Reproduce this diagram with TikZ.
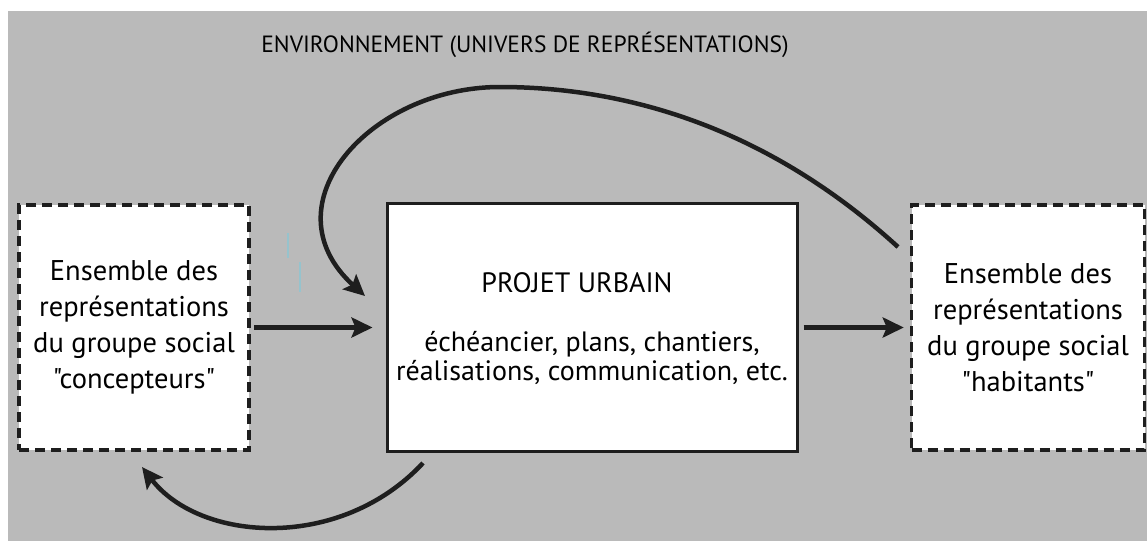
\documentclass[tikz,border=0pt]{standalone}
\usepackage{fontspec}
\setmainfont{PT Sans}[Ligatures=TeXOff]
\usetikzlibrary{arrows.meta,calc}
\definecolor{bggray}{RGB}{186,186,186}
\definecolor{ink}{RGB}{30,30,30}
\definecolor{artifact}{RGB}{150,195,205}
\begin{document}
\begin{tikzpicture}[x=1pt,y=-1pt,
  dashbox/.style={draw=ink, fill=white, line width=3.5pt, dash pattern=on 10pt off 6pt,
    align=center, inner sep=0pt, font=\fontsize{28.5}{36}\selectfont},
  solidbox/.style={draw=ink, fill=white, line width=3pt, inner sep=0pt},
  midtext/.style={align=center, inner sep=0pt, font=\fontsize{28}{29.5}\selectfont},
  arr/.style={draw=ink, line width=4.5pt, -{Stealth[length=21pt,width=20pt,inset=4pt]}}]
\useasboundingbox (0,0) rectangle (1147,541);
\fill[bggray] (8,11) rectangle (1147,541);
% stray light-blue marks
\draw[artifact, line width=2.5pt] (288,233) -- (288,258);
\draw[artifact, line width=2.5pt] (300,262) -- (300,292);
% title
\node[font=\fontsize{23.5}{28}\selectfont, inner sep=0pt] (title) at (525,45) {ENVIRONNEMENT (UNIVERS DE REPRÉSENTATIONS)};
% boxes
\node[dashbox, minimum width=230pt, minimum height=245pt] (left) at (134,327.5)
  {Ensemble des\\représentations\\du groupe social\\"concepteurs"};
\node[solidbox, minimum width=410pt, minimum height=248pt] (mid) at (592,327.5) {};
\node[midtext] (pu) at (577,283) {PROJET URBAIN};
\node[midtext] (det) at (592,358) {échéancier, plans, chantiers,\\réalisations, communication, etc.};
\node[dashbox, minimum width=233pt, minimum height=245pt] (right) at (1028,327.5)
  {Ensemble des\\représentations\\du groupe social\\"habitants"};
% straight arrows
\draw[arr, shorten <=3pt, shorten >=13pt] (left.east) -- (mid.west);
\draw[arr, shorten <=5pt, shorten >=6pt] (mid.east) -- (right.west);
% curved arrows
\coordinate (c1s) at (898,247);
\coordinate (c1e) at (365,296);
\draw[arr] (c1s) .. controls (770,130) and (630,87) .. (500,87)
  .. controls (370,87) and (265,205) .. (c1e);
\coordinate (c2s) at (423,463);
\coordinate (c2e) at (142,467);
\draw[arr] (c2s) .. controls (340,552) and (200,542) .. (c2e);
\end{tikzpicture}
\end{document}
